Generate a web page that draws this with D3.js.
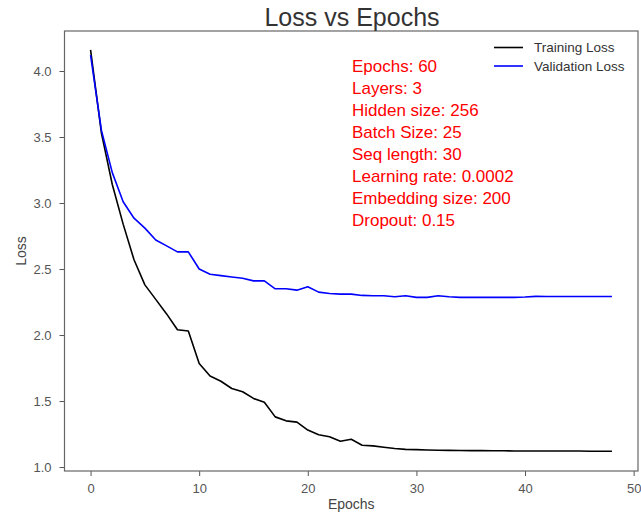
<!DOCTYPE html>
<html>
<head>
<meta charset="utf-8">
<script src="https://cdn.jsdelivr.net/npm/d3@7"></script>
<style>
  body { margin: 0; background: #fff; }
  svg text { font-family: "Liberation Sans", Arial, sans-serif; }
</style>
</head>
<body>
<div id="container"></div>
<script>
let epochs = d3.range(0, 49);
let trainingLoss = [4.16, 3.53, 3.14, 2.84, 2.57, 2.38, 2.27, 2.16, 2.04, 2.03,
  1.785, 1.69, 1.65, 1.595, 1.57, 1.52, 1.49, 1.38, 1.35, 1.34,
  1.28, 1.245, 1.23, 1.195, 1.21, 1.165, 1.16, 1.15, 1.14, 1.134,
  1.132, 1.129, 1.127, 1.126, 1.125, 1.124, 1.124, 1.123, 1.123, 1.122,
  1.122, 1.122, 1.121, 1.121, 1.121, 1.121, 1.12, 1.12, 1.12];
let validationLoss = [4.12, 3.55, 3.23, 3.01, 2.885, 2.81, 2.72, 2.675, 2.63, 2.63,
  2.5, 2.46, 2.45, 2.44, 2.43, 2.41, 2.41, 2.35, 2.35, 2.34,
  2.365, 2.325, 2.315, 2.31, 2.31, 2.30, 2.297, 2.297, 2.29, 2.297,
  2.285, 2.285, 2.297, 2.29, 2.285, 2.285, 2.285, 2.285, 2.285, 2.285,
  2.288, 2.293, 2.292, 2.292, 2.292, 2.292, 2.292, 2.292, 2.292];
let xTicks = [0, 10, 20, 30, 40, 50];
let yTicks = [1.0, 1.5, 2.0, 2.5, 3.0, 3.5, 4.0];
let legendItems = [
  { name: "Training Loss", color: "#000000", values: trainingLoss },
  { name: "Validation Loss", color: "#0000ff", values: validationLoss }
];
let notes = ["Epochs: 60", "Layers: 3", "Hidden size: 256", "Batch Size: 25",
  "Seq length: 30", "Learning rate: 0.0002", "Embedding size: 200", "Dropout: 0.15"];

let width = 641, height = 515;
let margin = { top: 31, right: 3, bottom: 44, left: 64.5 };

let svg = d3.select("#container").append("svg")
  .attr("width", width)
  .attr("height", height);

let x = d3.scaleLinear().domain([-2.4, 50.4]).range([margin.left, width - margin.right]);
let y = d3.scaleLinear().domain([0.97, 4.303]).range([height - margin.bottom, margin.top]);

// x axis
let xAxis = svg.append("g")
  .attr("transform", "translate(0," + (height - margin.bottom) + ")")
  .call(d3.axisBottom(x).tickValues(xTicks).tickFormat(d3.format("d")).tickSize(5).tickPadding(8));
xAxis.select(".domain").remove();
xAxis.selectAll("line").attr("stroke", "#555");
xAxis.selectAll("text").attr("fill", "#555").attr("font-size", 13);

// y axis
let yAxis = svg.append("g")
  .attr("transform", "translate(" + margin.left + ",0)")
  .call(d3.axisLeft(y).tickValues(yTicks).tickFormat(d3.format(".1f")).tickSize(5).tickPadding(8));
yAxis.select(".domain").remove();
yAxis.selectAll("line").attr("stroke", "#555");
yAxis.selectAll("text").attr("fill", "#555").attr("font-size", 13);

// frame
svg.append("rect")
  .attr("x", margin.left)
  .attr("y", margin.top)
  .attr("width", width - margin.right - margin.left)
  .attr("height", height - margin.bottom - margin.top)
  .attr("fill", "none")
  .attr("stroke", "#666")
  .attr("stroke-width", 1.2);

// lines
let line = d3.line()
  .x((d, i) => x(epochs[i]))
  .y(d => y(d));

svg.selectAll(".series")
  .data(legendItems)
  .enter().append("path")
  .attr("class", "series")
  .attr("d", d => line(d.values))
  .attr("fill", "none")
  .attr("stroke", d => d.color)
  .attr("stroke-width", 1.6)
  .attr("stroke-linejoin", "round");

// title and labels
svg.append("text")
  .attr("x", 352)
  .attr("y", 26)
  .attr("text-anchor", "middle")
  .attr("font-size", 25)
  .attr("fill", "#333")
  .text("Loss vs Epochs");

svg.append("text")
  .attr("x", (margin.left + width - margin.right) / 2)
  .attr("y", 509)
  .attr("text-anchor", "middle")
  .attr("font-size", 14)
  .attr("fill", "#444")
  .text("Epochs");

svg.append("text")
  .attr("transform", "translate(26," + ((margin.top + height - margin.bottom) / 2) + ") rotate(-90)")
  .attr("text-anchor", "middle")
  .attr("font-size", 14)
  .attr("fill", "#444")
  .text("Loss");

// legend
let legend = svg.selectAll(".legend")
  .data(legendItems)
  .enter().append("g")
  .attr("class", "legend")
  .attr("transform", (d, i) => "translate(494," + (47.5 + i * 18.5) + ")");
legend.append("line")
  .attr("x1", 0).attr("x2", 29)
  .attr("stroke", d => d.color)
  .attr("stroke-width", 1.6);
legend.append("text")
  .attr("x", 40)
  .attr("dy", "0.35em")
  .attr("font-size", 13.5)
  .attr("fill", "#333")
  .text(d => d.name);

// hyperparameter notes
svg.selectAll(".note")
  .data(notes)
  .enter().append("text")
  .attr("class", "note")
  .attr("x", 352)
  .attr("y", (d, i) => 72 + i * 22)
  .attr("font-size", 17)
  .attr("fill", "#ff0000")
  .text(d => d);
</script>
</body>
</html>
